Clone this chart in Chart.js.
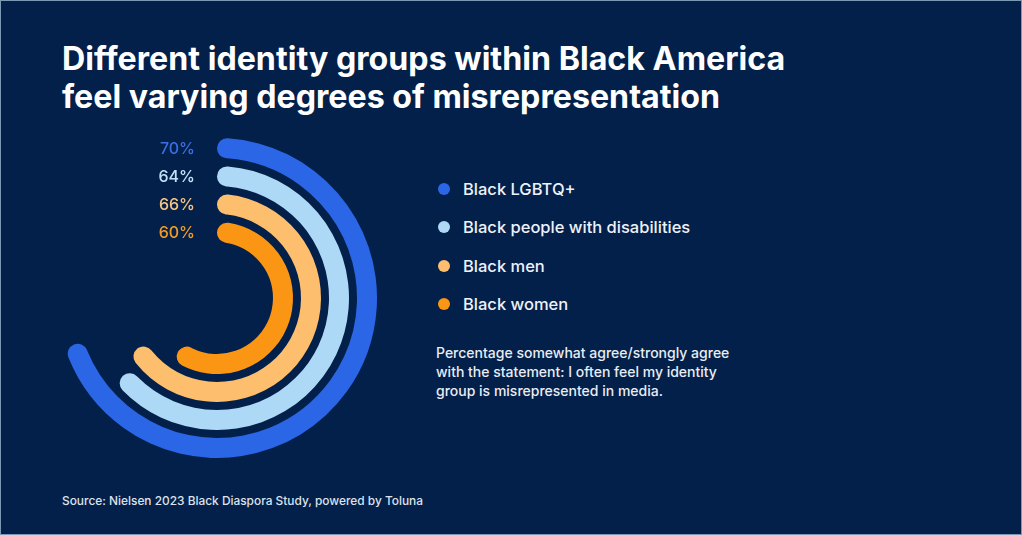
<!DOCTYPE html>
<html>
<head>
<meta charset="utf-8">
<script src="https://cdn.jsdelivr.net/npm/chart.js"></script>
<style>
  html, body { margin: 0; padding: 0; }
  body {
    width: 1022px; height: 535px; overflow: hidden;
    background: #03204a; font-family: Inter, "Noto Sans", sans-serif;
    position: relative; box-sizing: border-box; border: 1px solid #7d98b4;
  }
  #title {
    position: absolute; left: 61px; top: 39px; margin: 0;
    color: #ffffff; font-size: 32.2px; font-weight: 700; line-height: 38px;
  }
  #chartBox { position: absolute; left: 56px; top: 137px; width: 320px; height: 320px; }
  #legend { position: absolute; left: 437px; top: 169px; margin: 0; padding: 0; list-style: none; }
  #legend li {
    display: flex; align-items: center; height: 38.3px;
    color: #eef2f8; font-size: 16.5px; font-weight: 500;
  }
  #legend li span.dot { width: 12px; height: 12px; border-radius: 50%; margin-right: 13px; }
  #note {
    position: absolute; left: 435px; top: 342px; margin: 0; width: 330px;
    color: #e9edf3; font-size: 14px; font-weight: 500; line-height: 19px;
  }
  #source {
    position: absolute; left: 61px; top: 492px; margin: 0;
    color: #dde3ec; font-size: 11.9px; font-weight: 500;
  }
</style>
</head>
<body>
<h1 id="title">Different identity groups within Black America<br>feel varying degrees of misrepresentation</h1>
<div id="chartBox"><canvas id="radialChart"></canvas></div>
<ul id="legend"></ul>
<p id="note">Percentage somewhat agree/strongly agree<br>with the statement: I often feel my identity<br>group is misrepresented in media.</p>
<p id="source">Source: Nielsen 2023 Black Diaspora Study, powered by Toluna</p>
<script>
var groups = ['Black LGBTQ+', 'Black people with disabilities', 'Black men', 'Black women'];
var percents = [70, 64, 66, 60];
var arcColors = ['#2b66e6', '#aed9f6', '#fdbf6e', '#fb9514'];
var labelColors = ['#3a6fe2', '#c3e2f8', '#f8c47f', '#f39c24'];

document.addEventListener('DOMContentLoaded', function () {
    var legend = document.getElementById('legend');
    groups.forEach(function (g, i) {
        var li = document.createElement('li');
        li.innerHTML = '<span class="dot" style="background:' + arcColors[i] + '"></span>' + g;
        legend.appendChild(li);
    });

    // one ring per group, with a thin transparent ring between them
    var datasets = [];
    groups.forEach(function (g, i) {
        if (i > 0) {
            datasets.push({ data: [100], backgroundColor: ['rgba(0,0,0,0)'], weight: 8, borderWidth: 0 });
        }
        datasets.push({
            label: g,
            data: [percents[i], 100 - percents[i]],
            backgroundColor: [arcColors[i], 'rgba(0,0,0,0)'],
            weight: 20,
            borderWidth: 0,
            borderRadius: function (ctx) { return ctx.dataIndex === 0 ? 10 : 0; },
            pct: percents[i],
            pctColor: labelColors[i]
        });
    });

    var pctLabels = {
        id: 'pctLabels',
        afterDatasetsDraw: function (chart) {
            var c = chart.ctx;
            c.save();
            c.font = '500 16px Inter';
            c.textAlign = 'right';
            c.textBaseline = 'middle';
            chart.data.datasets.forEach(function (ds, i) {
                if (!ds.label) return;
                var arc = chart.getDatasetMeta(i).data[0];
                var p = arc.getProps(['x', 'y', 'innerRadius', 'outerRadius'], true);
                c.fillStyle = ds.pctColor;
                c.fillText(ds.pct + '%', p.x - 22, p.y - (p.innerRadius + p.outerRadius) / 2 + 1);
            });
            c.restore();
        }
    };

    var ctx = document.getElementById('radialChart').getContext('2d');
    new Chart(ctx, {
        type: 'doughnut',
        data: { labels: ['value', 'rest'], datasets: datasets },
        options: {
            animation: { duration: 0 },
            responsive: true,
            maintainAspectRatio: false,
            cutout: 56,
            layout: { padding: 0 },
            events: [],
            plugins: {
                legend: { display: false },
                tooltip: { enabled: false }
            }
        },
        plugins: [pctLabels]
    });
});
</script>
</body>
</html>
